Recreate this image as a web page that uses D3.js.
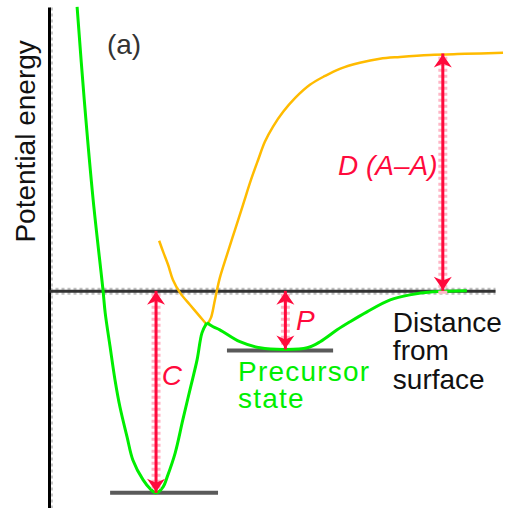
<!doctype html>
<html>
<head>
<meta charset="utf-8" />
<script src="https://d3js.org/d3.v7.min.js"></script>
<style>
  body{ margin:0; background:#fff; }
  text{ font-family: "Liberation Sans", Arial, sans-serif; font-size: 28px; }
</style>
</head>
<body>
<script>
// distance from surface (arbitrary units) / potential energy (arbitrary units)

// green curve: chemisorption well, up to the crossing point
var wellX = [0.63, 0.79, 0.99, 1.21, 1.26, 1.37, 1.48, 1.59, 1.75, 1.88, 2.11, 2.27, 2.40,
             2.56, 2.65, 2.83, 3.00, 3.16, 3.32, 3.43, 3.54];
var wellE = [14.06, 9.46, 4.50, 0.05, -1.09, -2.77, -4.41, -5.74, -7.23, -8.37, -9.36, -9.80, -10.0,
             -9.70, -9.21, -8.02, -6.39, -4.90, -3.42, -2.08, -1.58];

// green curve: physisorption (precursor) well, from the crossing point outwards
var precX = [3.54, 3.68, 3.83, 4.28, 4.73, 5.30, 5.79, 6.08, 6.46, 6.75, 7.13, 7.65, 8.09, 8.61, 9.37];
var precE = [-1.58, -1.78, -1.93, -2.52, -2.82, -2.90, -2.82, -2.52, -1.93, -1.53, -1.04, -0.45, -0.20, -0.05, 0];

// orange curve: A-A molecule potential, repulsive branch and attractive branch
var molLeftX = [2.47, 2.56, 2.67, 2.78, 2.94, 3.16, 3.39, 3.54];
var molLeftE = [2.48, 1.93, 1.29, 0.54, -0.10, -0.69, -1.29, -1.68];
var molRightX = [3.54, 3.63, 3.72, 3.83, 3.99, 4.17, 4.35, 4.53, 4.69, 4.84, 5.02, 5.25, 5.52,
                 5.85, 6.19, 6.52, 6.97, 7.42, 7.87, 8.54, 9.33, 10.18];
var molRightE = [-1.68, -1.34, -0.45, 0.64, 1.78, 3.02, 4.26, 5.50, 6.49, 7.38, 8.12, 8.86, 9.55,
                 10.20, 10.64, 10.99, 11.29, 11.49, 11.58, 11.68, 11.73, 11.78];

// energy gaps: chemisorption C, precursor P, dissociation D(A-A)
var gapNames = ["C", "P", "D (A\u2013A)"];
var gapX = [2.40, 5.30, 8.83];
var gapFrom = [0, 0, 0];
var gapTo = [-10.0, -2.9, 11.75];

// short reference lines under the two minima
var levelE = [-10.0, -2.95];
var levelX0 = [1.37, 3.99];
var levelX1 = [3.79, 6.37];

var svg = d3.select("body").append("svg").attr("width", 510).attr("height", 508);

var x = d3.scaleLinear().domain([0, 10]).range([49, 495]);
var y = d3.scaleLinear().domain([-10.75, 14.05]).range([508, 7]);

var red = "#ff0a3c", green = "#00ee00", orange = "#ffbb00";

function zip(xs, es){ return xs.map((v, i) => [v, es[i]]); }

// axes, with a faint dotted fringe like the scanned original
var yAxis = d3.axisLeft(y).tickValues([]).tickSizeOuter(0);
var xAxis = d3.axisBottom(x).tickValues([]).tickSizeOuter(0);

svg.append("g").attr("class", "fringe").attr("transform", `translate(${x(0) + 2},0)`).call(yAxis)
  .select(".domain").attr("stroke", "#c8c8c8").attr("stroke-width", 3).attr("stroke-dasharray", "3,3");
svg.append("g").attr("class", "fringe").attr("transform", `translate(0,${y(0)})`).call(xAxis)
  .select(".domain").attr("stroke", "#c0c0c0").attr("stroke-width", 7).attr("stroke-dasharray", "3,3");

svg.append("g").attr("transform", `translate(${x(0)},0)`).call(yAxis)
  .select(".domain").attr("stroke", "#000").attr("stroke-width", 3);
svg.append("g").attr("transform", `translate(0,${y(0)})`).call(xAxis)
  .select(".domain").attr("stroke", "#333").attr("stroke-width", 3);

// level lines
svg.selectAll("line.level")
  .data(levelE)
  .enter().append("line")
  .attr("class", "level")
  .attr("x1", (d, i) => x(levelX0[i]))
  .attr("x2", (d, i) => x(levelX1[i]))
  .attr("y1", d => y(d))
  .attr("y2", d => y(d))
  .attr("stroke", "#5a5a5a")
  .attr("stroke-width", 4);

var line = d3.line().x(d => x(d[0])).y(d => y(d[1])).curve(d3.curveCatmullRom.alpha(0.5));

// orange molecule curve
[zip(molLeftX, molLeftE), zip(molRightX, molRightE)].forEach(pts => {
  svg.append("path").attr("d", line(pts))
    .attr("fill", "none").attr("stroke", orange).attr("stroke-width", 2.5);
});

// green atom-surface curve
[zip(wellX, wellE), zip(precX, precE)].forEach(pts => {
  svg.append("path").attr("d", line(pts))
    .attr("fill", "none").attr("stroke", green).attr("stroke-width", 3)
    .attr("stroke-linejoin", "round");
});

// double-headed arrows
function head(px, py, dir){
  // dir = 1: tip points up, dir = -1: tip points down
  return `M${px},${py} L${px - 9},${py + dir * 13} L${px},${py + dir * 9} L${px + 9},${py + dir * 13} Z`;
}

var arrows = svg.selectAll("g.gap")
  .data(gapNames)
  .enter().append("g")
  .attr("class", "gap");

arrows.append("line")
  .attr("x1", (d, i) => x(gapX[i])).attr("x2", (d, i) => x(gapX[i]))
  .attr("y1", (d, i) => y(gapFrom[i]) + 3).attr("y2", (d, i) => y(gapTo[i]) - (gapTo[i] > 0 ? -3 : 3))
  .attr("stroke", "#ffb6c6").attr("stroke-width", 9).attr("stroke-dasharray", "3,3");
arrows.append("line")
  .attr("x1", (d, i) => x(gapX[i])).attr("x2", (d, i) => x(gapX[i]))
  .attr("y1", (d, i) => y(gapFrom[i])).attr("y2", (d, i) => y(gapTo[i]))
  .attr("stroke", red).attr("stroke-width", 3);
arrows.each(function(d, i){
  var g = d3.select(this), px = x(gapX[i]);
  var a = y(gapFrom[i]), b = y(gapTo[i]);
  var top = Math.min(a, b), bot = Math.max(a, b);
  g.append("path").attr("d", head(px, top + 1, 1)).attr("fill", red);
  g.append("path").attr("d", head(px, bot - 1, -1)).attr("fill", red);
});

// labels
svg.append("text")
  .attr("transform", `translate(${x(-0.31)},${y(2.39)}) rotate(-90)`)
  .attr("font-size", 29)
  .attr("fill", "#111")
  .text("Potential energy");

svg.append("text").attr("x", x(1.30)).attr("y", y(11.73)).attr("fill", "#333").text("(a)");

var gapLabelX = [2.53, 5.54, 6.48];
var gapLabelE = [-4.65, -1.93, 5.74];
svg.selectAll("text.gaplabel")
  .data(gapNames)
  .enter().append("text")
  .attr("class", "gaplabel")
  .attr("x", (d, i) => x(gapLabelX[i]))
  .attr("y", (d, i) => y(gapLabelE[i]))
  .attr("fill", red)
  .attr("font-style", "italic")
  .text(d => d);

var axisLabel = ["Distance", "from", "surface"];
svg.selectAll("text.xlabel")
  .data(axisLabel)
  .enter().append("text")
  .attr("class", "xlabel")
  .attr("x", x(7.71))
  .attr("y", (d, i) => y(-2.03) + i * 28.5)
  .attr("fill", "#111")
  .text(d => d);

var stateLabel = ["Precursor", "state"];
svg.selectAll("text.state")
  .data(stateLabel)
  .enter().append("text")
  .attr("class", "state")
  .attr("x", x(4.24))
  .attr("y", (d, i) => y(-4.46) + i * 27)
  .attr("font-size", 26)
  .attr("fill", green)
  .attr("letter-spacing", 1.2)
  .text(d => d);
</script>
</body>
</html>
